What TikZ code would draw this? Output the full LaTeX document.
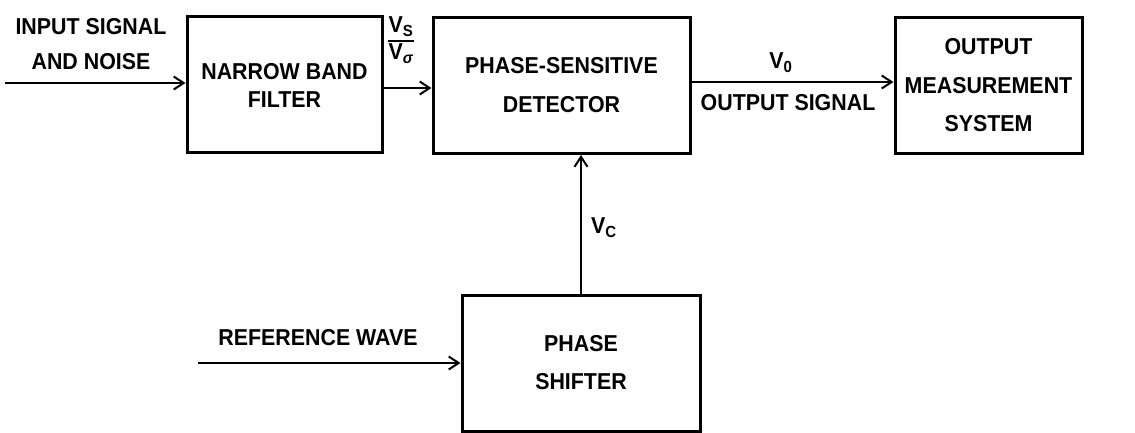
\documentclass[tikz,border=0pt]{standalone}
\usepackage{fontspec}
\setmainfont{Liberation Sans}[FakeStretch=0.93]
\usetikzlibrary{arrows.meta}
\begin{document}
\begin{tikzpicture}[x=1pt,y=-1pt,
  every node/.style={font=\fontsize{23}{27}\selectfont\bfseries, inner sep=0pt},
  blockbox/.style={draw, line width=3pt, align=center, minimum height=136pt},
  sig/.style={line width=1.8pt, -{Straight Barb[length=10pt,width=13pt,line width=2pt]}},
  lbl/.style={align=center}
]
\useasboundingbox (0,0) rectangle (1135,433);

\node[blockbox, minimum width=195pt, execute at begin node=\setlength{\baselineskip}{28pt}] (nbf) at (284.5,85) {NARROW BAND\\FILTER};
\node[blockbox, minimum width=257pt, execute at begin node=\setlength{\baselineskip}{39pt}] (psd) at (561.5,85.5) {PHASE-SENSITIVE\\DETECTOR};
\node[blockbox, minimum width=187pt, execute at begin node=\setlength{\baselineskip}{38.5pt}] (oms) at (988.5,85.5) {OUTPUT\\MEASUREMENT\\SYSTEM};
\node[blockbox, minimum width=238pt, execute at begin node=\setlength{\baselineskip}{38pt}] (ps) at (581,363) {PHASE\\SHIFTER};

\coordinate (inp) at (5,83);
\coordinate (ref) at (198,363);

\node[lbl, execute at begin node=\setlength{\baselineskip}{35pt}] (inlbl) at (91,44) {INPUT SIGNAL\\AND NOISE};
\node[lbl] (reflbl) at (318,338) {REFERENCE WAVE};
\node[lbl] (outlbl) at (788,103) {OUTPUT SIGNAL};
\node (vo) at (781,63) {V\textsubscript{0}};
\node (vc) at (604,228) {V\textsubscript{C}};
\node (vfrac) at (401,41) {\setlength{\arrayrulewidth}{1.6pt}\setlength{\tabcolsep}{1pt}\renewcommand{\arraystretch}{0.95}\begin{tabular}{c}V\textsubscript{S}\\\hline V\textsubscript{\itshape σ}\end{tabular}};

\draw[sig] (inp) -- (inp -| nbf.west);
\draw[sig] ([yshift=-3pt]nbf.east) -- ([yshift=-3pt]nbf.east -| psd.west);
\draw[sig] ([yshift=3.5pt]psd.east) -- ([yshift=3.5pt]psd.east -| oms.west);
\draw[sig] (ps.north) -- (ps.north |- psd.south);
\draw[sig] (ref) -- (ps.west);
\end{tikzpicture}
\end{document}
